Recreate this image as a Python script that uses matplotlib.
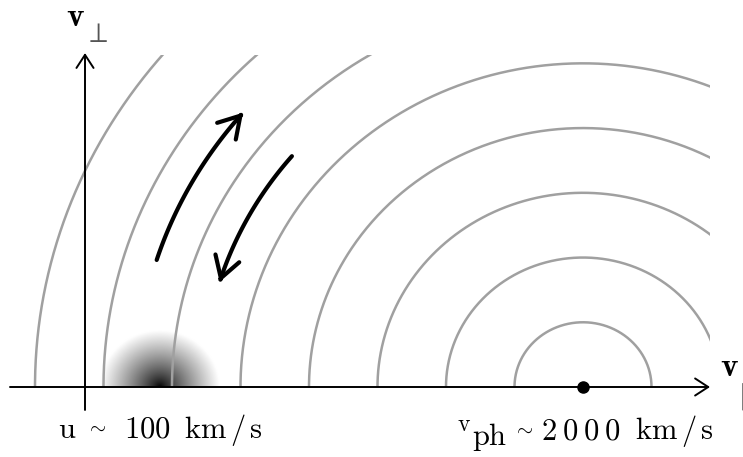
"""Velocity-space sketch: resonant wave surfaces (circles round v_ph) and a slow beam blob at u."""
import numpy as np
import matplotlib; matplotlib.use("Agg")
import matplotlib.pyplot as plt
from matplotlib.patches import Rectangle, FancyArrowPatch
from matplotlib.path import Path

plt.rcParams["mathtext.fontset"] = "cm"

# diagram units (not to scale): origin at the axes crossing
V_PH = 498.0                      # phase velocity, centre of the wave circles
U_BEAM = 75.0                     # beam velocity u
BLOB_R = 60.0
WAVE_RADII = [68.5, 137, 205.5, 274, 342.5, 411, 479.5, 548]
CLIP_X, CLIP_Y = 625.0, 351.3     # arcs are cut at the right and top
AX_X = (-75.0, 625.0)             # v_par axis extent
AX_Y = (-24.3, 353.4)             # v_perp axis extent
# diffusion arrows: radius, start angle, end angle (deg, measured round v_ph)
ARR_R = [447.0, 380.0]
ARR_START = [162.5, 140.0]
ARR_END = [139.5, 163.0]
# label words and their left x (px)
U_WORDS = [r"$\mathrm{u}$", r"$\mathrm{100}$", r"$\mathrm{km\,/\,s}$"]
U_X = [58, 124, 184]
PH_WORDS = [r"$\mathrm{2\:0\:0\:0}$", r"$\mathrm{km\,/\,s}$"]
PH_X = [541, 635]
TILDE_X = [86, 513]

YS = 0.945                        # vertical squash of the sketch
W, H = 743, 457
fig = plt.figure(figsize=(W/100, H/100), dpi=100)
ax = fig.add_axes([0, 0, 1, 1])
ax.set_axis_off()

# beam blob: radial grey shading, upper half only
gx = np.linspace(U_BEAM-BLOB_R, U_BEAM+BLOB_R, 300)
gy = np.linspace(0, BLOB_R, 150)
GX, GY = np.meshgrid(gx, gy)
rr = np.clip(np.hypot(GX-U_BEAM, GY)/BLOB_R, 0, 1)
ax.imshow(rr**0.8, cmap="gray", vmin=0, vmax=1, origin="lower", aspect="auto",
          extent=[gx[0], gx[-1], 0, BLOB_R], interpolation="bilinear", zorder=1)

# wave circles
clip = Rectangle((-200, 0), CLIP_X+200, CLIP_Y, transform=ax.transData, visible=False)
ax.add_patch(clip)
th = np.linspace(0, np.pi, 600)
for r in WAVE_RADII:
    ln, = ax.plot(V_PH + r*np.cos(th), r*np.sin(th), color="#a0a0a0", lw=1.8,
                  solid_capstyle="butt", zorder=2)
    ln.set_clip_path(clip)

# axes with open arrowheads
ahead = dict(arrowstyle="->,head_length=0.63,head_width=0.41", mutation_scale=15,
             lw=1.4, color="black", shrinkA=0, shrinkB=0)
ax.annotate("", xy=(AX_X[1], 0), xytext=(AX_X[0], 0), arrowprops=ahead, zorder=4)
ax.annotate("", xy=(0, AX_Y[1]), xytext=(0, AX_Y[0]), arrowprops=ahead, zorder=4)
ax.plot([V_PH], [0], "o", color="black", ms=8, zorder=5)

# curved diffusion arrows along the circles
for r, a0, a1 in zip(ARR_R, ARR_START, ARR_END):
    t = np.radians(np.linspace(a0, a1, 60))
    verts = np.column_stack([V_PH + r*np.cos(t), r*np.sin(t)])
    ax.add_patch(FancyArrowPatch(path=Path(verts), lw=3, color="black",
                                 arrowstyle="->,head_length=0.75,head_width=0.45",
                                 mutation_scale=20, shrinkA=0, shrinkB=0, zorder=6))

ax.set_xlim(-85, W-85)
ax.set_ylim(-(H-387)/YS, 387/YS)

# labels (placed in pixel positions of the sketch)
def px(x, y):
    return x/W, 1 - y/H
fs = 22
fig.text(*px(66, 26), r"$\mathbf{v}$", fontsize=24, va="baseline")
fig.text(*px(84, 42), r"$\perp$", fontsize=20, va="baseline", color="#555555")
fig.text(*px(720, 376), r"$\mathbf{v}$", fontsize=24, va="baseline")
fig.text(*px(738, 381), r"$|$", fontsize=20, va="top", color="#555555")
for s, x in zip(U_WORDS, U_X):
    fig.text(*px(x, 438), s, fontsize=fs, va="baseline")
fig.text(*px(457, 431), r"$\mathrm{v}$", fontsize=17, va="baseline")
fig.text(*px(472, 445), r"$\mathrm{ph}$", fontsize=fs, va="baseline")
for s, x in zip(PH_WORDS, PH_X):
    fig.text(*px(x, 439), s, fontsize=fs, va="baseline")
for x, yb in zip(TILDE_X, [433, 435]):
    fig.text(*px(x, yb), r"${\sim}$", fontsize=15, va="baseline")

fig.savefig("out.png", dpi=100)
